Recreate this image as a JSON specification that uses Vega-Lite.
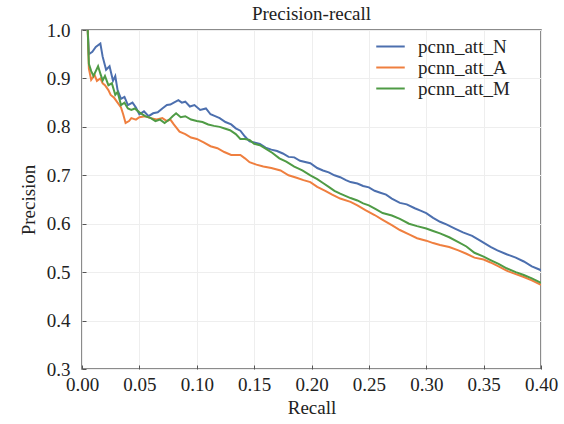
{
  "$schema": "https://vega.github.io/schema/vega-lite/v6.json",
  "autosize": "none",
  "width": 459,
  "height": 339,
  "padding": {"left": 82, "top": 30, "right": 23, "bottom": 55},
  "background": "white",
  "title": {"text": "Precision-recall", "font": "Liberation Serif", "fontSize": 19, "fontWeight": "normal", "color": "#222", "anchor": "middle", "frame": "group", "offset": -3},
  "config": {
    "view": {"stroke": "#666", "strokeWidth": 1.5},
    "axis": {
      "labelFont": "Liberation Serif", "titleFont": "Liberation Serif",
      "labelFontSize": 19, "titleFontSize": 19, "titleFontWeight": "normal",
      "labelColor": "#222", "titleColor": "#222",
      "gridColor": "#eeeeee", "gridWidth": 1,
      "domain": false, "tickSize": -4, "tickColor": "#555"
    },
    "legend": {"labelFont": "Liberation Serif", "labelFontSize": 19, "labelColor": "#222"}
  },
  "data": {"values": [
    {"model":"pcnn_att_N","r":0.005,"p":1.0},{"model":"pcnn_att_N","r":0.006,"p":0.95},{"model":"pcnn_att_N","r":0.009,"p":0.955},{"model":"pcnn_att_N","r":0.012,"p":0.965},{"model":"pcnn_att_N","r":0.016,"p":0.972},{"model":"pcnn_att_N","r":0.018,"p":0.945},{"model":"pcnn_att_N","r":0.021,"p":0.918},{"model":"pcnn_att_N","r":0.024,"p":0.925},{"model":"pcnn_att_N","r":0.027,"p":0.895},{"model":"pcnn_att_N","r":0.029,"p":0.905},{"model":"pcnn_att_N","r":0.031,"p":0.876},{"model":"pcnn_att_N","r":0.034,"p":0.858},{"model":"pcnn_att_N","r":0.037,"p":0.862},{"model":"pcnn_att_N","r":0.040,"p":0.845},{"model":"pcnn_att_N","r":0.044,"p":0.85},{"model":"pcnn_att_N","r":0.047,"p":0.84},{"model":"pcnn_att_N","r":0.050,"p":0.826},{"model":"pcnn_att_N","r":0.054,"p":0.832},{"model":"pcnn_att_N","r":0.058,"p":0.822},{"model":"pcnn_att_N","r":0.062,"p":0.828},{"model":"pcnn_att_N","r":0.066,"p":0.83},{"model":"pcnn_att_N","r":0.070,"p":0.838},{"model":"pcnn_att_N","r":0.074,"p":0.845},{"model":"pcnn_att_N","r":0.077,"p":0.846},{"model":"pcnn_att_N","r":0.080,"p":0.85},{"model":"pcnn_att_N","r":0.084,"p":0.855},{"model":"pcnn_att_N","r":0.087,"p":0.85},{"model":"pcnn_att_N","r":0.090,"p":0.852},{"model":"pcnn_att_N","r":0.094,"p":0.842},{"model":"pcnn_att_N","r":0.098,"p":0.845},{"model":"pcnn_att_N","r":0.103,"p":0.835},{"model":"pcnn_att_N","r":0.108,"p":0.838},{"model":"pcnn_att_N","r":0.112,"p":0.826},{"model":"pcnn_att_N","r":0.116,"p":0.822},{"model":"pcnn_att_N","r":0.120,"p":0.818},{"model":"pcnn_att_N","r":0.125,"p":0.81},{"model":"pcnn_att_N","r":0.130,"p":0.805},{"model":"pcnn_att_N","r":0.134,"p":0.797},{"model":"pcnn_att_N","r":0.138,"p":0.792},{"model":"pcnn_att_N","r":0.142,"p":0.78},{"model":"pcnn_att_N","r":0.146,"p":0.77},{"model":"pcnn_att_N","r":0.150,"p":0.768},{"model":"pcnn_att_N","r":0.155,"p":0.765},{"model":"pcnn_att_N","r":0.160,"p":0.757},{"model":"pcnn_att_N","r":0.165,"p":0.753},{"model":"pcnn_att_N","r":0.170,"p":0.75},{"model":"pcnn_att_N","r":0.175,"p":0.745},{"model":"pcnn_att_N","r":0.180,"p":0.738},{"model":"pcnn_att_N","r":0.185,"p":0.737},{"model":"pcnn_att_N","r":0.190,"p":0.73},{"model":"pcnn_att_N","r":0.199,"p":0.725},{"model":"pcnn_att_N","r":0.205,"p":0.715},{"model":"pcnn_att_N","r":0.210,"p":0.71},{"model":"pcnn_att_N","r":0.215,"p":0.706},{"model":"pcnn_att_N","r":0.220,"p":0.70},{"model":"pcnn_att_N","r":0.225,"p":0.696},{"model":"pcnn_att_N","r":0.230,"p":0.69},{"model":"pcnn_att_N","r":0.234,"p":0.686},{"model":"pcnn_att_N","r":0.240,"p":0.683},{"model":"pcnn_att_N","r":0.245,"p":0.678},{"model":"pcnn_att_N","r":0.250,"p":0.675},{"model":"pcnn_att_N","r":0.255,"p":0.668},{"model":"pcnn_att_N","r":0.260,"p":0.664},{"model":"pcnn_att_N","r":0.265,"p":0.66},{"model":"pcnn_att_N","r":0.270,"p":0.652},{"model":"pcnn_att_N","r":0.277,"p":0.643},{"model":"pcnn_att_N","r":0.283,"p":0.64},{"model":"pcnn_att_N","r":0.290,"p":0.632},{"model":"pcnn_att_N","r":0.295,"p":0.627},{"model":"pcnn_att_N","r":0.300,"p":0.622},{"model":"pcnn_att_N","r":0.306,"p":0.612},{"model":"pcnn_att_N","r":0.312,"p":0.604},{"model":"pcnn_att_N","r":0.318,"p":0.598},{"model":"pcnn_att_N","r":0.325,"p":0.59},{"model":"pcnn_att_N","r":0.332,"p":0.582},{"model":"pcnn_att_N","r":0.340,"p":0.575},{"model":"pcnn_att_N","r":0.347,"p":0.565},{"model":"pcnn_att_N","r":0.356,"p":0.552},{"model":"pcnn_att_N","r":0.362,"p":0.545},{"model":"pcnn_att_N","r":0.370,"p":0.537},{"model":"pcnn_att_N","r":0.378,"p":0.53},{"model":"pcnn_att_N","r":0.385,"p":0.522},{"model":"pcnn_att_N","r":0.392,"p":0.512},{"model":"pcnn_att_N","r":0.400,"p":0.504},

    {"model":"pcnn_att_A","r":0.005,"p":1.0},{"model":"pcnn_att_A","r":0.006,"p":0.92},{"model":"pcnn_att_A","r":0.008,"p":0.897},{"model":"pcnn_att_A","r":0.011,"p":0.907},{"model":"pcnn_att_A","r":0.013,"p":0.895},{"model":"pcnn_att_A","r":0.016,"p":0.90},{"model":"pcnn_att_A","r":0.018,"p":0.89},{"model":"pcnn_att_A","r":0.020,"p":0.886},{"model":"pcnn_att_A","r":0.023,"p":0.876},{"model":"pcnn_att_A","r":0.025,"p":0.866},{"model":"pcnn_att_A","r":0.028,"p":0.86},{"model":"pcnn_att_A","r":0.031,"p":0.85},{"model":"pcnn_att_A","r":0.034,"p":0.84},{"model":"pcnn_att_A","r":0.036,"p":0.825},{"model":"pcnn_att_A","r":0.038,"p":0.808},{"model":"pcnn_att_A","r":0.041,"p":0.812},{"model":"pcnn_att_A","r":0.043,"p":0.818},{"model":"pcnn_att_A","r":0.047,"p":0.815},{"model":"pcnn_att_A","r":0.050,"p":0.82},{"model":"pcnn_att_A","r":0.055,"p":0.822},{"model":"pcnn_att_A","r":0.060,"p":0.818},{"model":"pcnn_att_A","r":0.065,"p":0.815},{"model":"pcnn_att_A","r":0.070,"p":0.818},{"model":"pcnn_att_A","r":0.074,"p":0.812},{"model":"pcnn_att_A","r":0.077,"p":0.815},{"model":"pcnn_att_A","r":0.080,"p":0.805},{"model":"pcnn_att_A","r":0.085,"p":0.79},{"model":"pcnn_att_A","r":0.090,"p":0.785},{"model":"pcnn_att_A","r":0.095,"p":0.778},{"model":"pcnn_att_A","r":0.100,"p":0.775},{"model":"pcnn_att_A","r":0.106,"p":0.768},{"model":"pcnn_att_A","r":0.112,"p":0.76},{"model":"pcnn_att_A","r":0.118,"p":0.756},{"model":"pcnn_att_A","r":0.124,"p":0.748},{"model":"pcnn_att_A","r":0.130,"p":0.742},{"model":"pcnn_att_A","r":0.138,"p":0.742},{"model":"pcnn_att_A","r":0.142,"p":0.735},{"model":"pcnn_att_A","r":0.146,"p":0.727},{"model":"pcnn_att_A","r":0.152,"p":0.722},{"model":"pcnn_att_A","r":0.158,"p":0.718},{"model":"pcnn_att_A","r":0.165,"p":0.715},{"model":"pcnn_att_A","r":0.173,"p":0.71},{"model":"pcnn_att_A","r":0.180,"p":0.70},{"model":"pcnn_att_A","r":0.187,"p":0.695},{"model":"pcnn_att_A","r":0.193,"p":0.69},{"model":"pcnn_att_A","r":0.199,"p":0.686},{"model":"pcnn_att_A","r":0.205,"p":0.676},{"model":"pcnn_att_A","r":0.212,"p":0.668},{"model":"pcnn_att_A","r":0.218,"p":0.66},{"model":"pcnn_att_A","r":0.225,"p":0.652},{"model":"pcnn_att_A","r":0.234,"p":0.645},{"model":"pcnn_att_A","r":0.240,"p":0.638},{"model":"pcnn_att_A","r":0.247,"p":0.628},{"model":"pcnn_att_A","r":0.255,"p":0.618},{"model":"pcnn_att_A","r":0.262,"p":0.608},{"model":"pcnn_att_A","r":0.270,"p":0.597},{"model":"pcnn_att_A","r":0.277,"p":0.587},{"model":"pcnn_att_A","r":0.285,"p":0.578},{"model":"pcnn_att_A","r":0.292,"p":0.57},{"model":"pcnn_att_A","r":0.300,"p":0.565},{"model":"pcnn_att_A","r":0.306,"p":0.56},{"model":"pcnn_att_A","r":0.312,"p":0.556},{"model":"pcnn_att_A","r":0.320,"p":0.552},{"model":"pcnn_att_A","r":0.328,"p":0.545},{"model":"pcnn_att_A","r":0.335,"p":0.538},{"model":"pcnn_att_A","r":0.342,"p":0.53},{"model":"pcnn_att_A","r":0.350,"p":0.526},{"model":"pcnn_att_A","r":0.356,"p":0.52},{"model":"pcnn_att_A","r":0.363,"p":0.512},{"model":"pcnn_att_A","r":0.370,"p":0.503},{"model":"pcnn_att_A","r":0.378,"p":0.496},{"model":"pcnn_att_A","r":0.385,"p":0.49},{"model":"pcnn_att_A","r":0.392,"p":0.483},{"model":"pcnn_att_A","r":0.400,"p":0.474},

    {"model":"pcnn_att_M","r":0.005,"p":1.0},{"model":"pcnn_att_M","r":0.006,"p":0.93},{"model":"pcnn_att_M","r":0.008,"p":0.915},{"model":"pcnn_att_M","r":0.010,"p":0.905},{"model":"pcnn_att_M","r":0.012,"p":0.915},{"model":"pcnn_att_M","r":0.014,"p":0.925},{"model":"pcnn_att_M","r":0.016,"p":0.91},{"model":"pcnn_att_M","r":0.018,"p":0.896},{"model":"pcnn_att_M","r":0.020,"p":0.905},{"model":"pcnn_att_M","r":0.023,"p":0.886},{"model":"pcnn_att_M","r":0.026,"p":0.89},{"model":"pcnn_att_M","r":0.029,"p":0.866},{"model":"pcnn_att_M","r":0.031,"p":0.872},{"model":"pcnn_att_M","r":0.034,"p":0.845},{"model":"pcnn_att_M","r":0.037,"p":0.85},{"model":"pcnn_att_M","r":0.040,"p":0.838},{"model":"pcnn_att_M","r":0.043,"p":0.835},{"model":"pcnn_att_M","r":0.046,"p":0.838},{"model":"pcnn_att_M","r":0.050,"p":0.83},{"model":"pcnn_att_M","r":0.055,"p":0.822},{"model":"pcnn_att_M","r":0.060,"p":0.818},{"model":"pcnn_att_M","r":0.064,"p":0.812},{"model":"pcnn_att_M","r":0.068,"p":0.815},{"model":"pcnn_att_M","r":0.072,"p":0.808},{"model":"pcnn_att_M","r":0.076,"p":0.815},{"model":"pcnn_att_M","r":0.079,"p":0.822},{"model":"pcnn_att_M","r":0.082,"p":0.828},{"model":"pcnn_att_M","r":0.086,"p":0.82},{"model":"pcnn_att_M","r":0.090,"p":0.822},{"model":"pcnn_att_M","r":0.095,"p":0.815},{"model":"pcnn_att_M","r":0.100,"p":0.812},{"model":"pcnn_att_M","r":0.105,"p":0.81},{"model":"pcnn_att_M","r":0.110,"p":0.805},{"model":"pcnn_att_M","r":0.115,"p":0.802},{"model":"pcnn_att_M","r":0.120,"p":0.80},{"model":"pcnn_att_M","r":0.125,"p":0.796},{"model":"pcnn_att_M","r":0.129,"p":0.793},{"model":"pcnn_att_M","r":0.134,"p":0.785},{"model":"pcnn_att_M","r":0.138,"p":0.775},{"model":"pcnn_att_M","r":0.142,"p":0.775},{"model":"pcnn_att_M","r":0.146,"p":0.773},{"model":"pcnn_att_M","r":0.150,"p":0.765},{"model":"pcnn_att_M","r":0.155,"p":0.762},{"model":"pcnn_att_M","r":0.160,"p":0.755},{"model":"pcnn_att_M","r":0.166,"p":0.746},{"model":"pcnn_att_M","r":0.172,"p":0.735},{"model":"pcnn_att_M","r":0.178,"p":0.728},{"model":"pcnn_att_M","r":0.185,"p":0.718},{"model":"pcnn_att_M","r":0.192,"p":0.71},{"model":"pcnn_att_M","r":0.199,"p":0.70},{"model":"pcnn_att_M","r":0.205,"p":0.692},{"model":"pcnn_att_M","r":0.210,"p":0.684},{"model":"pcnn_att_M","r":0.215,"p":0.676},{"model":"pcnn_att_M","r":0.220,"p":0.668},{"model":"pcnn_att_M","r":0.225,"p":0.662},{"model":"pcnn_att_M","r":0.230,"p":0.657},{"model":"pcnn_att_M","r":0.234,"p":0.653},{"model":"pcnn_att_M","r":0.240,"p":0.648},{"model":"pcnn_att_M","r":0.245,"p":0.642},{"model":"pcnn_att_M","r":0.250,"p":0.638},{"model":"pcnn_att_M","r":0.256,"p":0.63},{"model":"pcnn_att_M","r":0.262,"p":0.622},{"model":"pcnn_att_M","r":0.270,"p":0.617},{"model":"pcnn_att_M","r":0.277,"p":0.61},{"model":"pcnn_att_M","r":0.285,"p":0.60},{"model":"pcnn_att_M","r":0.292,"p":0.595},{"model":"pcnn_att_M","r":0.300,"p":0.59},{"model":"pcnn_att_M","r":0.306,"p":0.585},{"model":"pcnn_att_M","r":0.312,"p":0.58},{"model":"pcnn_att_M","r":0.320,"p":0.572},{"model":"pcnn_att_M","r":0.328,"p":0.562},{"model":"pcnn_att_M","r":0.335,"p":0.553},{"model":"pcnn_att_M","r":0.342,"p":0.54},{"model":"pcnn_att_M","r":0.350,"p":0.532},{"model":"pcnn_att_M","r":0.356,"p":0.525},{"model":"pcnn_att_M","r":0.363,"p":0.517},{"model":"pcnn_att_M","r":0.370,"p":0.508},{"model":"pcnn_att_M","r":0.378,"p":0.50},{"model":"pcnn_att_M","r":0.385,"p":0.494},{"model":"pcnn_att_M","r":0.392,"p":0.487},{"model":"pcnn_att_M","r":0.400,"p":0.478}
  ]},
  "mark": {"type": "line", "strokeWidth": 2, "clip": true},
  "encoding": {
    "x": {"field": "r", "type": "quantitative", "title": "Recall",
      "scale": {"domain": [0, 0.4], "nice": false, "zero": false},
      "axis": {"values": [0, 0.05, 0.1, 0.15, 0.2, 0.25, 0.3, 0.35, 0.4], "format": ".2f", "labelPadding": 10, "titlePadding": 4, "labelFlush": false}},
    "y": {"field": "p", "type": "quantitative", "title": "Precision",
      "scale": {"domain": [0.3, 1.0], "nice": false, "zero": false},
      "axis": {"values": [0.3, 0.4, 0.5, 0.6, 0.7, 0.8, 0.9, 1.0], "format": ".1f", "labelPadding": 16, "titlePadding": 8, "labelFlush": false}},
    "color": {"field": "model", "type": "nominal",
      "scale": {"domain": ["pcnn_att_N", "pcnn_att_A", "pcnn_att_M"], "range": ["#4c6fae", "#ef7f3f", "#4f9b45"]},
      "legend": {"title": null, "orient": "none", "legendX": 288, "legendY": -4, "symbolType": "M-1.5,0H1.5", "symbolSize": 361, "symbolStrokeWidth": 2, "symbolFillColor": "transparent", "labelOffset": 17, "padding": 10, "rowPadding": 0}
    },
    "order": {"field": "r", "type": "quantitative"}
  }
}
